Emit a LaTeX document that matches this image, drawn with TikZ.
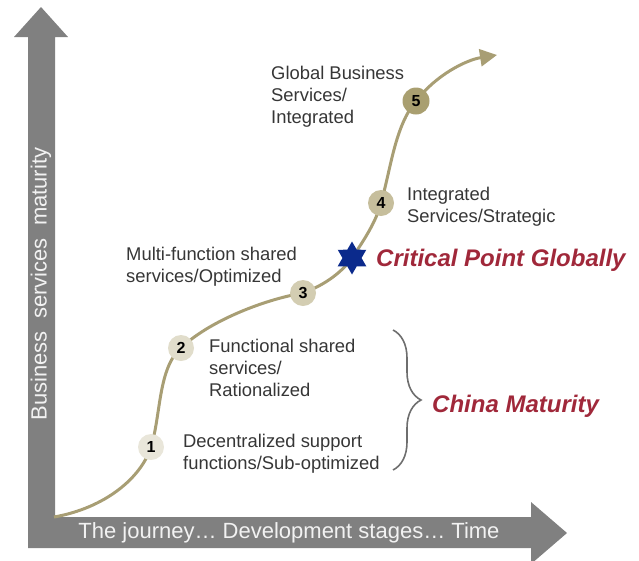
\documentclass[tikz,border=0pt]{standalone}
\usepackage{fontspec}
\setmainfont{Liberation Sans}
\usetikzlibrary{arrows.meta,decorations.pathreplacing,shapes.geometric}

\definecolor{axisgray}{HTML}{808080}
\definecolor{axistext}{HTML}{F2F2F2}
\definecolor{pathkhaki}{HTML}{A89E74}
\definecolor{bodytext}{HTML}{363636}
\definecolor{accentred}{HTML}{A0283A}
\definecolor{starblue}{HTML}{0B2A8C}
\definecolor{stageA}{HTML}{E9E6DA}
\definecolor{stageB}{HTML}{E1DDCB}
\definecolor{stageC}{HTML}{D3CDB2}
\definecolor{stageD}{HTML}{C6BE9C}
\definecolor{stageE}{HTML}{A99F70}
\definecolor{bracegray}{HTML}{6E6E6E}

\tikzset{
  stage/.style={circle, minimum size=26pt, inner sep=0pt,
    font=\fontsize{16}{16}\selectfont\bfseries, text=black},
  desc/.style={anchor=north west, align=left, inner sep=0pt,
    font=\fontsize{18.4}{22}\selectfont, text=bodytext},
  callout/.style={anchor=west, inner sep=0pt,
    font=\fontsize{24}{26}\selectfont\bfseries\itshape, text=accentred},
  axislabel/.style={inner sep=0pt, font=\fontsize{22}{24}\selectfont, text=axistext},
  journey/.style={draw=pathkhaki, line width=3pt},
}

\begin{document}
\begin{tikzpicture}[x=1pt, y=-1pt]
  \useasboundingbox (0,0) rectangle (639,560);

  % axes: one L-shaped arrow body with two heads
  \fill[axisgray] (28,548) -- (28,37) -- (14,37) -- (41,7) -- (68,37) -- (55,37)
    -- (55,517) -- (531,517) -- (531,502) -- (567,533) -- (531,564) -- (531,548) -- cycle;
  \node[axislabel, rotate=90] (yl) at (41,284) {Business\ \ services\ \ maturity};
  \node[axislabel] (xl) at (289,533) {The journey\dots\ Development stages\dots\ Time};

  % stage markers and the critical point
  \coordinate (s) at (54,517);
  \coordinate (e) at (497,55);
  \node[stage] (c1) at (151,447) {};
  \node[stage] (c2) at (181,348) {};
  \node[stage] (c3) at (303,293) {};
  \node[star, star points=6, star point ratio=1.73, minimum size=33pt, inner sep=0pt] (st) at (352,258) {};
  \node[stage] (c4) at (381,203) {};
  \node[stage, minimum size=27pt] (c5) at (416,101) {};

  % maturity path
  \draw[journey, -{Triangle[length=17pt,width=17pt]}]
    (s) .. controls (105,508) and (141,478) .. (c1.center)
        .. controls (161,415) and (158,368) .. (c2.center)
        .. controls (208,322) and (262,300) .. (c3.center)
        .. controls (325,285) and (342,272) .. (st.center)
        .. controls (364,240) and (376,222) .. (c4.center)
        .. controls (391,168) and (395,126) .. (c5.center)
        .. controls (436,75) and (466,60) .. (e);

  \node[stage, fill=stageA] at (c1) {1};
  \node[stage, fill=stageB] at (c2) {2};
  \node[stage, fill=stageC] at (c3) {3};
  \node[stage, fill=stageD] at (c4) {4};
  \node[stage, fill=stageE, minimum size=27pt] at (c5) {5};
  \node[star, star points=6, star point ratio=1.73, minimum size=33pt, inner sep=0pt, fill=starblue] at (st) {};

  % stage descriptions
  \node[desc] (t1) at (183,434) {Decentralized support\\functions/Sub-optimized};
  \node[desc] (t2) at (209,339) {Functional shared\\services/\\Rationalized};
  \node[desc] (t3) at (126,247) {Multi-function shared\\services/Optimized};
  \node[desc] (t4) at (407,187) {Integrated\\Services/Strategic};
  \node[desc] (t5) at (271,66) {Global Business\\Services/\\Integrated};

  % callouts
  \node[callout] (cp) at (376,260) {Critical Point Globally};
  \draw[bracegray, line width=1.6pt, decorate, decoration={brace, amplitude=28pt}]
    (393,330) coordinate (b1) -- (393,470) coordinate (b2);
  \node[callout] (cm) at (432,406) {China Maturity};
\end{tikzpicture}
\end{document}
